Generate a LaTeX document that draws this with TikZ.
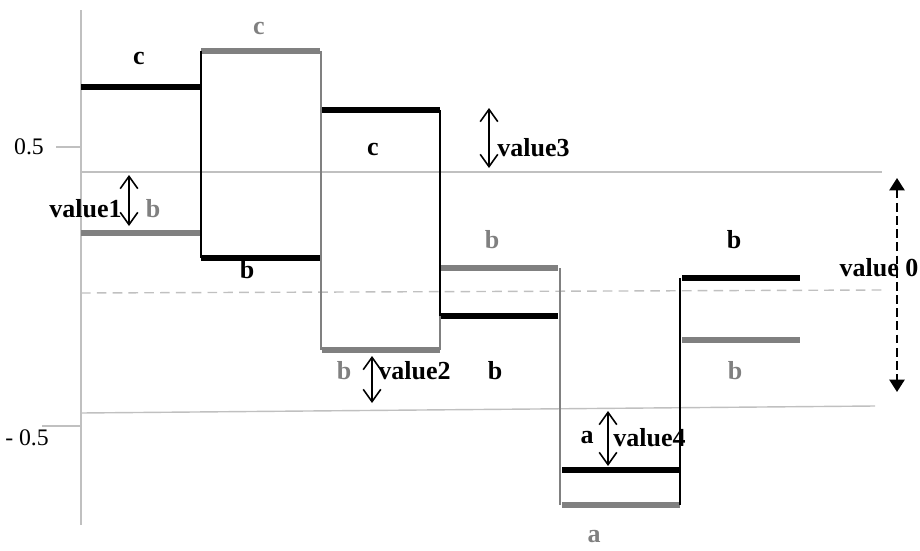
\documentclass[tikz,border=0pt]{standalone}
\usepackage{fontspec}
\setmainfont{Liberation Serif}
\usetikzlibrary{arrows.meta}
\definecolor{lvlgray}{RGB}{128,128,128}
\definecolor{gridgray}{RGB}{192,192,192}
\tikzstyle{Lvl}=[line width=3.9pt, black]
\tikzstyle{LvlG}=[line width=3.9pt, lvlgray]
\tikzstyle{Wire}=[line width=1.1pt, black]
\tikzstyle{WireG}=[line width=0.9pt, lvlgray]
\tikzstyle{Grid}=[line width=0.8pt, gridgray]
\tikzstyle{Lbl}=[font=\bfseries\fontsize{14.8}{17}\selectfont, inner sep=0]
\tikzstyle{LblG}=[Lbl, text=lvlgray]
\tikzstyle{Tick}=[font=\fontsize{13.5}{16}\selectfont, inner sep=0]
\tikzstyle{Gap}=[line width=0.9pt, {Straight Barb[length=7pt,width=10pt]}-{Straight Barb[length=7pt,width=10pt]}]

\begin{document}
\begin{tikzpicture}[x=0.02cm, y=-0.02cm]
    \useasboundingbox (0,0) rectangle (920,551);

    % axis and reference lines
    \draw[Grid] (81,10) -- (81,525);
    \draw[Grid] (56,147) -- (81,147);
    \draw[Grid] (42,426) -- (81,426);
    \draw[Grid] (81,172) -- (882,172);
    \draw[Grid] (81,413) -- (875,406);
    \draw[Grid, dashed, dash pattern=on 5.5pt off 3.5pt] (81,293) -- (882,290);
    \path
    (29,147) node[Tick] (t1) {0.5}
    (27,438) node[Tick] (t2) {- 0.5};

    % levels
    \foreach \xa/\xb/\y in {81/200/233, 201/320/51, 322/440/350, 440/558/268, 562/680/505, 682/800/340}
        \draw[LvlG] (\xa,\y) -- (\xb,\y);
    \foreach \xa/\xb/\y in {81/200/87, 201/320/258, 322/440/110, 440/558/316, 562/680/470, 682/800/278}
        \draw[Lvl] (\xa,\y) -- (\xb,\y);

    % transitions
    \draw[Wire] (201,51) -- (201,258);
    \draw[WireG] (321,51) -- (321,350);
    \draw[Wire] (440,110) -- (440,316);
    \draw[WireG] (440,316) -- (440,350);
    \draw[WireG] (560,268) -- (560,505);
    \draw[Wire] (680,278) -- (680,505);

    % labels
    \path
    (139,58) node[Lbl] (c1) {c}
    (259,28) node[LblG] (c2) {c}
    (373,149) node[Lbl] (c3) {c}
    (153,209) node[LblG] (b1) {b}
    (247,270) node[Lbl] (b2) {b}
    (492,240) node[LblG] (b3) {b}
    (734,240) node[Lbl] (b4) {b}
    (344,371) node[LblG] (b5) {b}
    (495,371) node[Lbl] (b6) {b}
    (735,371) node[LblG] (b7) {b}
    (587,438) node[Lbl] (a1) {a}
    (594,537) node[LblG] (a2) {a};

    % value arrows
    \coordinate (v1t) at (129,175);
    \coordinate (v1b) at (129,226);
    \coordinate (v2t) at (372,356);
    \coordinate (v2b) at (372,403);
    \coordinate (v3t) at (489,108);
    \coordinate (v3b) at (489,168);
    \coordinate (v4t) at (608,411);
    \coordinate (v4b) at (608,466);
    \coordinate (v0t) at (897,178);
    \coordinate (v0b) at (897,392);
    \draw[Gap] (v1t) -- (v1b);
    \draw[Gap] (v2t) -- (v2b);
    \draw[Gap] (v3t) -- (v3b);
    \draw[Gap] (v4t) -- (v4b);
    \draw[line width=1.4pt, dash pattern=on 5pt off 2.5pt, {Triangle[length=7pt,width=8.5pt]}-{Triangle[length=7pt,width=8.5pt]}] (v0t) -- (v0b);
    \path
    (v1t) ++(-7,34) node[Lbl, anchor=east] (val1) {value1}
    (v2t) ++(6,15) node[Lbl, anchor=west] (val2) {value2}
    (v3t) ++(8,40) node[Lbl, anchor=west] (val3) {value3}
    (v4t) ++(5,27) node[Lbl, anchor=west] (val4) {value4}
    (879,268) node[Lbl] (val0) {value 0};
\end{tikzpicture}
\end{document}
